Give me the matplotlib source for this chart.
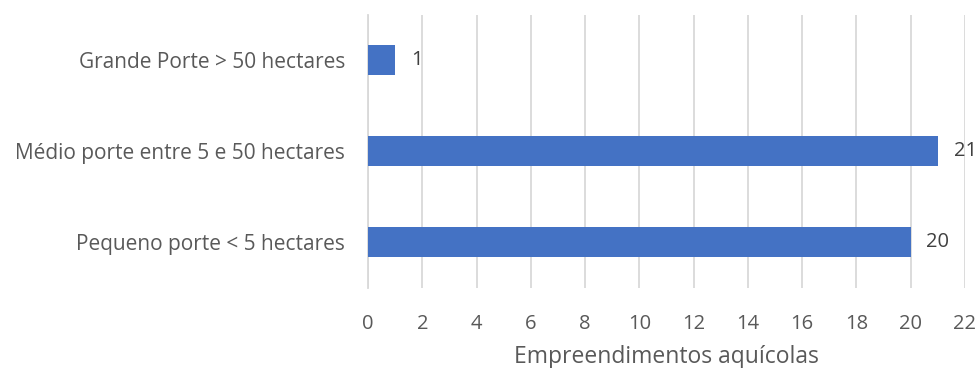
import matplotlib
matplotlib.use("Agg")
import matplotlib.pyplot as plt

categories = ["Pequeno porte < 5 hectares", "Médio porte entre 5 e 50 hectares", "Grande Porte > 50 hectares"]
values = [20, 21, 1]
xticks = list(range(0, 23, 2))
xlabel = "Empreendimentos aquícolas"

plt.rcParams['font.family'] = ['Open Sans', 'DejaVu Sans']

fig = plt.figure(figsize=(9.79, 3.68), dpi=100)
ax = fig.add_axes([368/979, 1-287.5/368, (965-368)/979, (287.5-14.5)/368])

y = list(range(len(categories)))
ax.barh(y, values, height=0.34, color="#4472C4", zorder=3)
for yi, v in zip(y, values):
    ax.text(v + 0.58, yi, str(v), va="center", ha="left", fontsize=14.5, color="#404040")

ax.set_xlim(0, 22)
ax.set_ylim(-0.5, 2.5)
ax.set_xticks(xticks)
ax.set_xticklabels([str(t) for t in xticks], fontsize=14.5, color="#595959")
ax.set_yticks(y)
ax.set_yticklabels(categories, fontsize=15, color="#595959")
ax.tick_params(axis="both", length=0)
ax.tick_params(axis="y", pad=16.5)
ax.tick_params(axis="x", pad=19)
ax.grid(axis="x", color="#D9D9D9", linewidth=1.3, zorder=0)
for s in ["top", "right", "bottom"]:
    ax.spines[s].set_visible(False)
ax.spines["left"].set_color("#D9D9D9")
ax.spines["left"].set_linewidth(1.3)
ax.set_xlabel(xlabel, fontsize=16.5, color="#595959", labelpad=8)

fig.savefig("out.png", dpi=100)
